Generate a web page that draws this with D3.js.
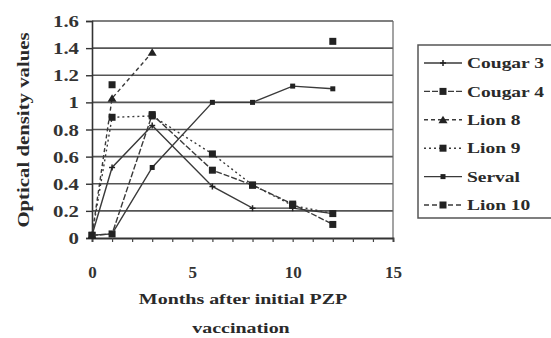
<!DOCTYPE html>
<html><head><meta charset="utf-8">
<script src="https://cdn.jsdelivr.net/npm/d3@7"></script>
<style>
html,body{margin:0;padding:0;background:#fff;}
svg{display:block;}
text{font-family:"Liberation Serif","DejaVu Serif",serif;font-weight:bold;fill:#2a2a2a;}
</style></head>
<body>
<svg id="c" width="551" height="338"></svg>
<script>
const seriesNames = ["Cougar 3","Cougar 4","Lion 8","Lion 9","Serval","Lion 10"];
const months = [0,1,3,6,8,10,12];
const cougar3 = [0.02,0.52,0.83,0.38,0.22,0.22,0.18];
const cougar4 = [0.02,0.03,0.91,0.50,0.39,0.25,0.10];
const lion8   = [0.02,1.03,1.37,null,null,null,null];
const lion9   = [0.02,0.89,0.90,0.62,0.39,0.24,0.18];
const serval  = [0.02,0.03,0.52,1.00,1.00,1.12,1.10];
const lion10  = [null,1.13,null,null,null,null,1.45];
const yTicks = [0,0.2,0.4,0.6,0.8,1,1.2,1.4,1.6];
const xTicks = [0,5,10,15];

const allValues = [cougar3,cougar4,lion8,lion9,serval,lion10];
const dashes = [null,"6,2",  "4,3", "2,3", null, "5,3"];
const markers = ["plus","square","triangle","square","smallsquare","square"];

const svg = d3.select("#c");
const x = d3.scaleLinear().domain([0,15]).range([92,393]);
const y = d3.scaleLinear().domain([0,1.6]).range([238,21]);

// gridlines
svg.append("g").selectAll("line").data(yTicks.slice(1)).join("line")
  .attr("x1",x(0)).attr("x2",x(15)).attr("y1",d=>y(d)).attr("y2",d=>y(d))
  .attr("stroke","#555").attr("stroke-width",1.6);
// right border
svg.append("line").attr("x1",x(15)).attr("x2",x(15)).attr("y1",y(1.6)).attr("y2",y(0))
  .attr("stroke","#666").attr("stroke-width",1.2);

// axes
const yAxis = svg.append("g").attr("transform",`translate(${x(0)},0)`)
  .call(d3.axisLeft(y).tickValues(yTicks).tickSize(6).tickFormat(d=>d3.format("")(d)));
yAxis.select(".domain").attr("stroke","#333").attr("stroke-width",1.6);
yAxis.selectAll(".tick line").attr("stroke","#333").attr("stroke-width",1.4);
yAxis.selectAll("text").attr("font-size",16).attr("x",null).attr("dy","0.35em")
  .attr("transform","translate(-13,0) scale(1.3,1)").style("fill","#333");

const xAxis = svg.append("g").attr("transform",`translate(0,${y(0)})`)
  .call(d3.axisBottom(x).tickValues(d3.range(0,16,1)).tickSize(4).tickFormat(d=>xTicks.includes(d)?d:""));
xAxis.select(".domain").attr("stroke","#333").attr("stroke-width",1.8);
xAxis.selectAll(".tick line").attr("stroke","#444").attr("stroke-width",1.2);
xAxis.selectAll("text").attr("font-size",17).attr("y",28).style("fill","#333");

// series lines
const line = d3.line().defined(d=>d.v!==null).x(d=>x(d.m)).y(d=>y(d.v));
function drawMarker(g, type, cx, cy){
  if(type==="square") g.append("rect").attr("x",cx-3.5).attr("y",cy-3.5).attr("width",7).attr("height",7).attr("fill","#222");
  else if(type==="smallsquare") g.append("rect").attr("x",cx-2.5).attr("y",cy-2.5).attr("width",5).attr("height",5).attr("fill","#222");
  else if(type==="triangle") g.append("path").attr("d",`M${cx},${cy-4}L${cx+4.5},${cy+3.5}L${cx-4.5},${cy+3.5}Z`).attr("fill","#222");
  else if(type==="plus") g.append("path").attr("d",`M${cx-3},${cy}H${cx+3}M${cx},${cy-3}V${cy+3}`).attr("stroke","#222").attr("stroke-width",1.5);
}
allValues.forEach((vals,i)=>{
  const pts = months.map((m,j)=>({m,v:vals[j]}));
  svg.append("path").datum(pts).attr("d",line).attr("fill","none")
    .attr("stroke","#3a3a3a").attr("stroke-width",1.4).attr("stroke-dasharray",dashes[i]);
  const g = svg.append("g");
  pts.filter(p=>p.v!==null).forEach(p=>drawMarker(g,markers[i],x(p.m),y(p.v)));
});

// axis titles
svg.append("text").attr("transform","translate(29,130) rotate(-90) scale(1.3,1)").attr("text-anchor","middle")
  .attr("font-size",16).text("Optical density values");
svg.append("text").attr("transform","translate(243,304) scale(1.33,1)").attr("text-anchor","middle").attr("font-size",15).text("Months after initial PZP");
svg.append("text").attr("transform","translate(241,333) scale(1.33,1)").attr("text-anchor","middle").attr("font-size",15).text("vaccination");

// legend
const lg = svg.append("g");
lg.append("rect").attr("x",418).attr("y",45).attr("width",140).attr("height",173)
  .attr("fill","#fff").attr("stroke","#555").attr("stroke-width",1.5);
seriesNames.forEach((n,i)=>{
  const cy = 63 + i*28.4;
  lg.append("line").attr("x1",424).attr("x2",462).attr("y1",cy).attr("y2",cy)
    .attr("stroke","#3a3a3a").attr("stroke-width",1.4).attr("stroke-dasharray",dashes[i]);
  drawMarker(lg,markers[i],443,cy);
  lg.append("text").attr("transform",`translate(467,${cy}) scale(1.3,1)`).attr("dy","0.35em").attr("font-size",15).text(n);
});
</script>
</body></html>
